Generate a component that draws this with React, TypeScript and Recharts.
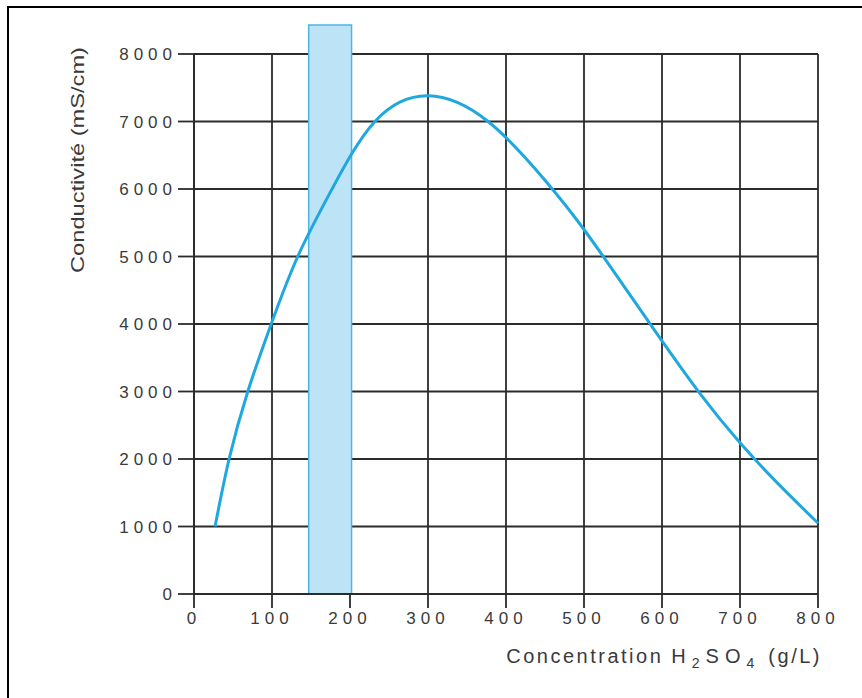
import { LineChart, Line, XAxis, YAxis, CartesianGrid, ReferenceArea } from 'recharts'

// concentration H2SO4 (g/L) and conductivity (mS/cm)
const concentration = [27, 45, 69, 99, 133, 177, 232, 300, 377, 450, 500, 550, 600, 650, 700, 750, 800]
const conductivity = [1000, 2000, 3000, 4000, 5000, 6000, 7000, 7380, 7000, 6130, 5400, 4580, 3750, 2950, 2240, 1620, 1050]

const xTicks = [0, 100, 200, 300, 400, 500, 600, 700, 800]
const yTicks = [0, 1000, 2000, 3000, 4000, 5000, 6000, 7000, 8000]

// shaded operating window
const bandFrom = 147
const bandTo = 202
const bandTop = 8430

const data = concentration.map((c, i) => ({ c, k: conductivity[i] }))

const FONT = '"Liberation Sans", Arial, sans-serif'
const GRID = '#2b2b2b'
const BLUE = '#1fa8e0'
const TEXT = '#3a3a3a'

const tickStyle = { fontSize: 17, fill: TEXT, fontFamily: FONT, letterSpacing: 5 }

function XTitle() {
  return (
    <text x={822} y={663} textAnchor="end" fontSize={20} fontFamily={FONT} fill={TEXT}>
      <tspan letterSpacing={2.5}>Concentration </tspan>
      <tspan letterSpacing={6}>H</tspan>
      <tspan dy={5} fontSize={14} letterSpacing={6}>2</tspan>
      <tspan dy={-5} letterSpacing={6}>SO</tspan>
      <tspan dy={5} fontSize={14} letterSpacing={6}>4</tspan>
      <tspan dy={-5} letterSpacing={2.5}> (g/L)</tspan>
    </text>
  )
}

function YTitle() {
  return (
    <text
      x={0}
      y={0}
      transform="translate(84,160) rotate(-90)"
      textAnchor="middle"
      fontSize={18}
      fontFamily={FONT}
      fill={TEXT}
      textLength={226}
      lengthAdjust="spacingAndGlyphs"
    >
      Conductivité (mS/cm)
    </text>
  )
}

export default function App() {
  return (
    <div style={{ position: 'absolute', left: 0, top: 0, width: 862, height: 698, background: '#fff' }}>
      <div
        style={{
          position: 'absolute',
          left: 7,
          top: 6,
          width: 900,
          height: 800,
          borderLeft: '2px solid #000',
          borderTop: '2px solid #000',
        }}
      />
      <LineChart
        width={862}
        height={698}
        data={data}
        margin={{ top: 54, right: 44, bottom: 74, left: 134 }}
        style={{ position: 'absolute', left: 0, top: 0 }}
      >
        <CartesianGrid stroke={GRID} strokeWidth={1.8} />
        <XAxis
          dataKey="c"
          type="number"
          domain={[0, 800]}
          ticks={xTicks}
          interval={0}
          tickSize={14}
          tickMargin={4}
          height={30}
          stroke={GRID}
          strokeWidth={1.8}
          tick={tickStyle}
          label={{ content: () => <XTitle /> }}
        />
        <YAxis
          type="number"
          domain={[0, 8000]}
          ticks={yTicks}
          interval={0}
          tickSize={16}
          tickMargin={1}
          width={60}
          stroke={GRID}
          strokeWidth={1.8}
          tick={tickStyle}
          label={{ content: () => <YTitle /> }}
        />
        <ReferenceArea
          x1={bandFrom}
          x2={bandTo}
          y1={0}
          y2={bandTop}
          ifOverflow="visible"
          fill="#bce4f6"
          fillOpacity={1}
          stroke="#4fb4e2"
          strokeWidth={1.5}
        />
        <Line
          type="natural"
          dataKey="k"
          stroke={BLUE}
          strokeWidth={3}
          dot={false}
          isAnimationActive={false}
        />
      </LineChart>
    </div>
  )
}
